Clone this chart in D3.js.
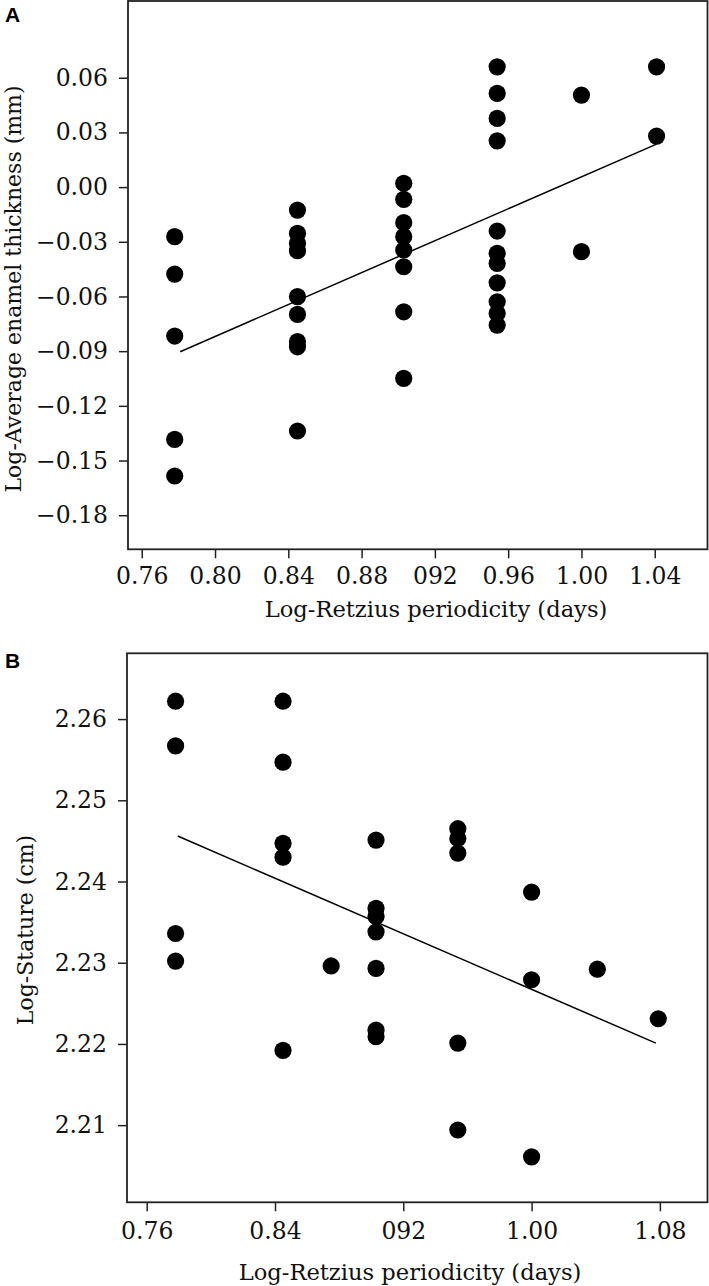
<!DOCTYPE html>
<html>
<head>
<meta charset="utf-8">
<script src="https://cdn.jsdelivr.net/npm/d3@7"></script>
<style>
  body { margin: 0; background: #fff; }
  text { font-family: "DejaVu Serif", serif; fill: #111; }
</style>
</head>
<body>
<script>
// panel A : log retzius periodicity vs log average enamel thickness
var retziusA = [0.778, 0.778, 0.778, 0.778, 0.778,
                0.845, 0.845, 0.845, 0.845, 0.845, 0.845, 0.845, 0.845, 0.845,
                0.903, 0.903, 0.903, 0.903, 0.903, 0.903, 0.903, 0.903,
                0.954, 0.954, 0.954, 0.954, 0.954, 0.954, 0.954, 0.954, 0.954, 0.954, 0.954,
                1.000, 1.000,
                1.041, 1.041];
var enamel = [-0.0272, -0.0477, -0.0817, -0.1384, -0.1585,
              -0.0126, -0.0254, -0.0308, -0.0349, -0.0601, -0.0698, -0.0848, -0.0876, -0.1338,
              0.0021, -0.0067, -0.0195, -0.0272, -0.0345, -0.0437, -0.0684, -0.1049,
              0.0660, 0.0514, 0.0377, 0.0254, -0.0241, -0.0363, -0.0418, -0.0525, -0.0629, -0.0692, -0.0757,
              0.0505, -0.0354,
              0.0660, 0.0280];
var trendAx = [0.781, 1.041];
var trendAy = [-0.0903, 0.0236];

// panel B : log retzius periodicity vs log stature
var retziusB = [0.778, 0.778, 0.778, 0.778,
                0.845, 0.845, 0.845, 0.845, 0.845,
                0.875,
                0.903, 0.903, 0.903, 0.903, 0.903, 0.903, 0.903,
                0.954, 0.954, 0.954, 0.954, 0.954,
                1.000, 1.000, 1.000,
                1.041,
                1.079];
var stature = [2.2622, 2.2567, 2.2336, 2.2302,
               2.2622, 2.2547, 2.2447, 2.2430, 2.2192,
               2.2296,
               2.2451, 2.2367, 2.2357, 2.2338, 2.2293, 2.2217, 2.2209,
               2.2465, 2.2453, 2.2435, 2.2201, 2.2094,
               2.2387, 2.2279, 2.2061,
               2.2292,
               2.2231];
var trendBx = [0.7793, 1.0775];
var trendBy = [2.2456, 2.2201];

// ticks (the "092" typo is in the original figure)
var xTicksA = [0.76, 0.80, 0.84, 0.88, 0.92, 0.96, 1.00, 1.04];
var xLabelsA = ["0.76", "0.80", "0.84", "0.88", "092", "0.96", "1.00", "1.04"];
var yTicksA = [0.06, 0.03, 0.00, -0.03, -0.06, -0.09, -0.12, -0.15, -0.18];
var yLabelsA = ["0.06", "0.03", "0.00", "\u22120.03", "\u22120.06", "\u22120.09", "\u22120.12", "\u22120.15", "\u22120.18"];
var xTicksB = [0.76, 0.84, 0.92, 1.00, 1.08];
var xLabelsB = ["0.76", "0.84", "092", "1.00", "1.08"];
var yTicksB = [2.26, 2.25, 2.24, 2.23, 2.22, 2.21];
var yLabelsB = ["2.26", "2.25", "2.24", "2.23", "2.22", "2.21"];

var svg = d3.select("body")
            .append("svg")
            .attr("width", 709)
            .attr("height", 1286);

var drawPanel = function(p)
{
  var x = d3.scaleLinear()
            .domain(p.xDomain)
            .range([p.left, p.right]);
  var y = d3.scaleLinear()
            .domain(p.yDomain)
            .range([p.bottom, p.top]);

  var g = svg.append("g");

  var xAxis = d3.axisBottom(x)
                .tickValues(p.xTicks)
                .tickSize(9)
                .tickPadding(p.xPad)
                .tickFormat(function(d, i) {return p.xLabels[i];});
  var yAxis = d3.axisLeft(y)
                .tickValues(p.yTicks)
                .tickSize(9)
                .tickPadding(11)
                .tickFormat(function(d, i) {return p.yLabels[i];});

  var gx = g.append("g")
            .attr("transform", "translate(0," + p.bottom + ")")
            .call(xAxis);
  var gy = g.append("g")
            .attr("transform", "translate(" + p.left + ",0)")
            .call(yAxis);

  [gx, gy].forEach(function(a) {
    a.select(".domain").remove();
    a.selectAll(".tick line").attr("stroke", "#222").attr("stroke-width", 1.5);
    a.selectAll(".tick text")
     .attr("font-size", "23.5px")
     .attr("fill", "#111");
  });

  // frame
  g.append("rect")
   .attr("x", p.left)
   .attr("y", p.top)
   .attr("width", p.right - p.left)
   .attr("height", p.bottom - p.top)
   .attr("fill", "none")
   .attr("stroke", "#222")
   .attr("stroke-width", 1.8);

  // regression line
  g.append("line")
   .attr("x1", x(p.trendX[0]))
   .attr("y1", y(p.trendY[0]))
   .attr("x2", x(p.trendX[1]))
   .attr("y2", y(p.trendY[1]))
   .attr("stroke", "#000")
   .attr("stroke-width", 1.5);

  g.selectAll("circle")
   .data(p.xs)
   .enter()
   .append("circle")
   .attr("cx", function(d) {return x(d);})
   .attr("cy", function(d, i) {return y(p.ys[i]);})
   .attr("r", 8.6)
   .attr("fill", "#000");

  g.append("text")
   .attr("x", p.xLabelX)
   .attr("y", p.xLabelY)
   .attr("text-anchor", "middle")
   .attr("font-size", "22.6px")
   .text("Log-Retzius periodicity (days)");

  g.append("text")
   .attr("transform", "translate(" + p.yLabelX + "," + p.yLabelY + ") rotate(-90)")
   .attr("text-anchor", "middle")
   .attr("font-size", "22px")
   .text(p.yTitle);

  // panel letter
  g.append("text")
   .attr("x", 5)
   .attr("y", p.letterY)
   .attr("font-weight", "bold")
   .attr("font-size", "21px")
   .style("font-family", "'Liberation Sans', Arial, sans-serif")
   .style("fill", "#000")
   .text(p.letter);
}

drawPanel({
  xs: retziusA, ys: enamel, trendX: trendAx, trendY: trendAy,
  xDomain: [0.7525, 1.0688], yDomain: [-0.1987, 0.1021],
  left: 128, right: 707.5, top: 1, bottom: 549.3,
  xTicks: xTicksA, xLabels: xLabelsA, yTicks: yTicksA, yLabels: yLabelsA,
  xPad: 9,
  xLabelX: 436, xLabelY: 617,
  yLabelX: 21, yLabelY: 289, yTitle: "Log-Average enamel thickness (mm)",
  letter: "A", letterY: 22
});

drawPanel({
  xs: retziusB, ys: stature, trendX: trendBx, trendY: trendBy,
  xDomain: [0.7477, 1.1097], yDomain: [2.2005, 2.2681],
  left: 127, right: 707.5, top: 653.3, bottom: 1202.3,
  xTicks: xTicksB, xLabels: xLabelsB, yTicks: yTicksB, yLabels: yLabelsB,
  xPad: 11,
  xLabelX: 410, xLabelY: 1280,
  yLabelX: 33, yLabelY: 930, yTitle: "Log-Stature (cm)",
  letter: "B", letterY: 668
});
</script>
</body>
</html>
